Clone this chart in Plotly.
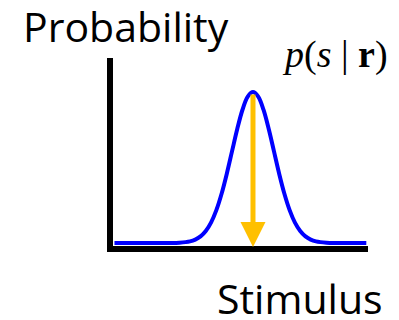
import plotly.graph_objects as go

# Stimulus values (arbitrary units, peak at 0) and probability
stimulus = [-6.6, -5.0, -4.0, -3.5, -3.0, -2.75, -2.5, -2.25, -2.0, -1.75, -1.5, -1.25, -1.0,
            -0.75, -0.5, -0.25, 0.0, 0.25, 0.5, 0.75, 1.0, 1.25, 1.5, 1.75, 2.0, 2.25,
            2.5, 2.75, 3.0, 3.5, 4.0, 5.4]
probability = [0.0, 0.0, 0.0001, 0.0009, 0.0044, 0.0091, 0.0175, 0.0317, 0.054, 0.0863, 0.1295,
               0.1826, 0.242, 0.3011, 0.3521, 0.3867, 0.3989, 0.3867, 0.3521, 0.3011, 0.242,
               0.1826, 0.1295, 0.0863, 0.054, 0.0317, 0.0175, 0.0091, 0.0044, 0.0009, 0.0001, 0.0]

estimate_x = 0.0
estimate_top = 0.396
estimate_tip = -0.0106

fig = go.Figure()
fig.add_trace(go.Scatter(x=stimulus, y=probability, mode="lines",
                         line=dict(color="#0000FF", width=4, shape="spline"),
                         hoverinfo="skip", showlegend=False))

fig.add_annotation(x=estimate_x, y=estimate_tip, ax=estimate_x, ay=estimate_top,
                   xref="x", yref="y", axref="x", ayref="y", text="",
                   showarrow=True, arrowhead=2, arrowwidth=5, arrowsize=1,
                   arrowcolor="#FFC000", standoff=0, startstandoff=0)

fig.add_annotation(text="Probability", xref="paper", yref="paper",
                   x=(125.5 - 113) / 255, y=(246 - 26) / 188, xanchor="center", yanchor="middle",
                   showarrow=False, font=dict(family="Open Sans", size=41, color="black"))
fig.add_annotation(text="Stimulus", xref="paper", yref="paper",
                   x=(299.5 - 113) / 255, y=(246 - 298) / 188, xanchor="center", yanchor="middle",
                   showarrow=False, font=dict(family="Open Sans", size=41, color="black"))
fig.add_annotation(text="<i>p</i>(<i>s</i> | <b>r</b>)", xref="paper", yref="paper",
                   x=(335 - 113) / 255, y=(246 - 54) / 188, xanchor="center", yanchor="middle",
                   showarrow=False, font=dict(family="Liberation Serif", size=38, color="black"))

fig.update_xaxes(range=[-6.67, 5.48], showline=True, linewidth=6, linecolor="black",
                 showgrid=False, zeroline=False, showticklabels=False, ticks="")
fig.update_yaxes(range=[-0.0079, 0.4888], showline=True, linewidth=6, linecolor="black",
                 showgrid=False, zeroline=False, showticklabels=False, ticks="")
fig.update_layout(width=399, height=320, margin=dict(l=105, r=39, t=50, b=82),
                  plot_bgcolor="white", paper_bgcolor="white")

fig.write_html("out.html")
